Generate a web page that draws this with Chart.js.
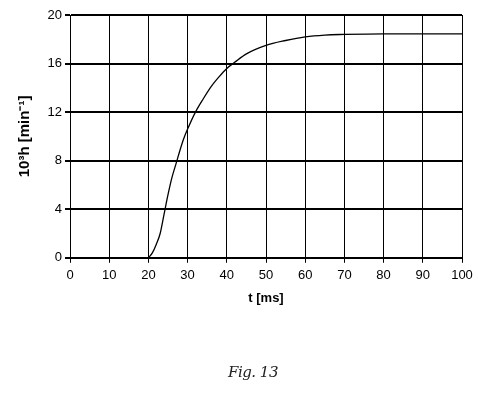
<!DOCTYPE html>
<html>
<head>
<meta charset="utf-8">
<script src="https://cdn.jsdelivr.net/npm/chart.js@4"></script>
<style>
  html, body { margin: 0; padding: 0; background: #fff; }
  #wrap { position: relative; width: 478px; height: 394px; }
  #fig { position: absolute; left: 228px; top: 363px; font-family: "DejaVu Serif", serif; font-style: italic; font-size: 15px; color: #222; letter-spacing: -0.5px; }
</style>
</head>
<body>
<div id="wrap">
  <canvas id="c" width="478" height="394"></canvas>
  <div id="fig">Fig. 13</div>
</div>
<script>
const timeMs = [20, 21, 22, 23, 24, 25, 26, 27, 28, 29, 30, 32, 34, 36, 38, 40, 42, 45, 50, 55, 60, 65, 70, 80, 90, 100];
const hValues = [0, 0.4, 1.1, 2.0, 3.6, 5.2, 6.6, 7.7, 8.8, 9.8, 10.6, 12.0, 13.1, 14.1, 14.9, 15.6, 16.1, 16.8, 17.5, 17.9, 18.2, 18.35, 18.4, 18.45, 18.45, 18.45];
const xTicks = [0, 10, 20, 30, 40, 50, 60, 70, 80, 90, 100];
const yTicks = [0, 4, 8, 12, 16, 20];
const xTitle = 't [ms]';
const yTitle = '10³h [min⁻¹]';

const points = timeMs.map((t, i) => ({ x: t, y: hValues[i] }));

new Chart(document.getElementById('c'), {
  type: 'line',
  data: {
    datasets: [{
      data: points,
      borderColor: '#000',
      borderWidth: 1.3,
      pointRadius: 0,
      fill: false,
      cubicInterpolationMode: 'monotone'
    }]
  },
  options: {
    responsive: false,
    animation: false,
    layout: { padding: { left: 16, top: 15, right: 16, bottom: 88 } },
    plugins: { legend: { display: false }, tooltip: { enabled: false } },
    scales: {
      x: {
        type: 'linear', min: 0, max: 100,
        afterBuildTicks: s => { s.ticks = xTicks.map(v => ({ value: v })); },
        grid: { color: '#000', lineWidth: 1, tickLength: 5, drawTicks: true },
        border: { color: '#000', width: 2 },
        ticks: { color: '#000', font: { family: 'Liberation Sans', size: 13 }, padding: 5, maxRotation: 0 },
        title: { display: true, text: xTitle, color: '#000', font: { family: 'Liberation Sans', size: 13, weight: 'bold' }, padding: { top: 2, bottom: 0 } }
      },
      y: {
        type: 'linear', min: 0, max: 20,
        afterBuildTicks: s => { s.ticks = yTicks.map(v => ({ value: v })); },
        afterFit: s => { s.width = 54; },
        grid: { color: '#000', lineWidth: 2, tickLength: 5 },
        border: { color: '#000', width: 1 },
        ticks: { color: '#000', font: { family: 'Liberation Sans', size: 13 }, padding: 3 },
        title: { display: true, text: yTitle, color: '#000', font: { family: 'Liberation Sans', size: 15, weight: 'bold' }, padding: { top: 0, bottom: 4 } }
      }
    }
  },
  plugins: [{
    id: 'rightBorder',
    afterDraw(chart) {
      const { ctx, chartArea } = chart;
      ctx.save();
      ctx.strokeStyle = '#000';
      ctx.lineWidth = 1;
      ctx.beginPath();
      ctx.moveTo(chartArea.right + 0.5, chartArea.top);
      ctx.lineTo(chartArea.right + 0.5, chartArea.bottom);
      ctx.stroke();
      ctx.restore();
    }
  }]
});
</script>
</body>
</html>
